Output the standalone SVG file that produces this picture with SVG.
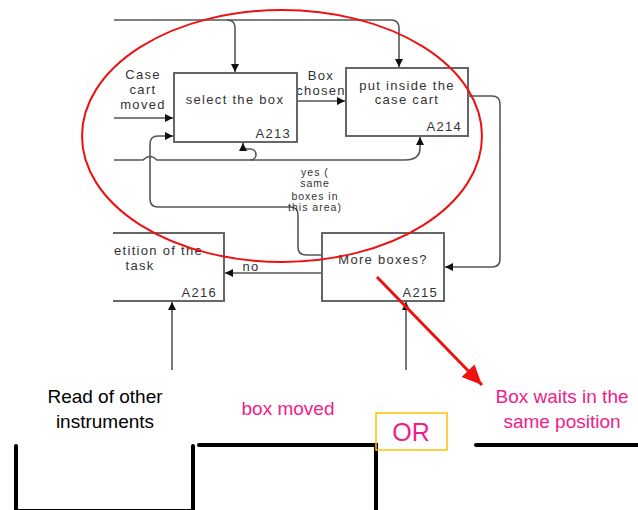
<svg xmlns="http://www.w3.org/2000/svg" width="638" height="510" viewBox="0 0 638 510">
  <style>
    .box { fill: #ffffff; stroke: #666666; stroke-width: 2; }
    .lbl { font-family: "Liberation Sans", Arial, sans-serif; font-size: 13px; fill: #333333; letter-spacing: 1.3px; }
    .small { font-size: 10.5px; letter-spacing: 1px; }
    .conn { fill: none; stroke: #555555; stroke-width: 1.6; }
    .feed { fill: none; stroke: #777777; stroke-width: 2; }
    .big { font-family: "Liberation Sans", Arial, sans-serif; font-size: 19px; text-anchor: middle; }
    .pink { fill: #f0208a; }
    .rail { fill: none; stroke: #000000; stroke-width: 4; stroke-linecap: round; }
  </style>
  <defs>
    <marker id="arrow" markerUnits="userSpaceOnUse" markerWidth="10" markerHeight="10" refX="8" refY="4" orient="auto">
      <path d="M0,0 L8,4 L0,8 Z" fill="#111111"/>
    </marker>
    <marker id="redArrow" markerUnits="userSpaceOnUse" markerWidth="24" markerHeight="24" refX="20" refY="9" orient="auto">
      <path d="M0,0 L20,9 L0,18 Z" fill="#ee1111"/>
    </marker>
  </defs>

  <rect width="638" height="510" fill="#ffffff"/>

  <!-- connectors -->
  <g id="connectors">
    <path class="conn" d="M114,20 H391 Q399,20 399,28 V67" marker-end="url(#arrow)"/>
    <path class="conn" d="M227,20 Q235,20 235,28 V72" marker-end="url(#arrow)"/>
    <path class="conn" d="M114,118 H173" marker-end="url(#arrow)"/>
    <path class="conn" d="M297,101 H345" marker-end="url(#arrow)"/>
    <path class="conn" d="M322,255 H306 Q298,255 298,247 V215 Q298,207 290,207 H158 Q150,207 150,199 V144 Q150,136 158,136 H173" marker-end="url(#arrow)"/>
    <path class="conn" d="M114,160 H143 Q150,153 157,160 H405 Q420,160 420,148 V137" marker-end="url(#arrow)"/>
    <path class="conn" d="M250,160 C258,160 258,149 250,149 H247 Q243,149 243,146 V143" marker-end="url(#arrow)"/>
    <path class="conn" d="M468,96 H492 Q500,96 500,104 V259 Q500,267 492,267 H445" marker-end="url(#arrow)"/>
    <path class="conn" d="M322,273 H225" marker-end="url(#arrow)"/>
    <path class="feed" d="M172,370 V302" marker-end="url(#arrow)"/>
    <path class="feed" d="M406,370 V302" marker-end="url(#arrow)"/>
  </g>

  <!-- edge labels -->
  <g id="edge-labels" class="lbl" text-anchor="middle">
    <text x="143" y="79">Case</text>
    <text x="143" y="94">cart</text>
    <text x="143" y="109">moved</text>
    <text x="321" y="80">Box</text>
    <text x="321" y="95">chosen</text>
    <text x="251" y="271">no</text>
    <g class="small">
      <text x="315" y="176">yes (</text>
      <text x="315" y="187">same</text>
      <text x="315" y="200">boxes in</text>
      <text x="315" y="211">this area)</text>
    </g>
  </g>

  <!-- activity boxes -->
  <g id="A213">
    <rect class="box" x="174" y="73" width="123" height="69"/>
    <text class="lbl" x="235" y="104" text-anchor="middle">select the box</text>
    <text class="lbl" x="291" y="138" text-anchor="end">A213</text>
  </g>
  <g id="A214">
    <rect class="box" x="346" y="68" width="122" height="68"/>
    <text class="lbl" x="407" y="90" text-anchor="middle">put inside the</text>
    <text class="lbl" x="407" y="104" text-anchor="middle">case cart</text>
    <text class="lbl" x="462" y="131" text-anchor="end">A214</text>
  </g>
  <g id="A215">
    <rect class="box" x="322" y="233" width="122" height="68"/>
    <text class="lbl" x="383" y="264" text-anchor="middle">More  boxes?</text>
    <text class="lbl" x="438" y="297" text-anchor="end">A215</text>
  </g>
  <g id="A216">
    <path class="box" d="M113,233 H224 V301 H113"/>
    <text class="lbl" x="114" y="255">etition of the</text>
    <text class="lbl" x="140" y="270" text-anchor="middle">task</text>
    <text class="lbl" x="217" y="297" text-anchor="end">A216</text>
  </g>

  <!-- highlight ellipse and pointer -->
  <ellipse cx="282" cy="136" rx="200" ry="126" fill="none" stroke="#ee1111" stroke-width="2"/>
  <path d="M377,277 L482,385" stroke="#ee1111" stroke-width="3" fill="none" marker-end="url(#redArrow)"/>

  <!-- state rail -->
  <g id="rail">
    <path class="rail" d="M16,446 V512"/>
    <path class="rail" d="M16,511 H193"/>
    <path class="rail" d="M193,446 V512"/>
    <path class="rail" d="M199,445 H376 V512"/>
    <path class="rail" d="M476,445 H640"/>
  </g>

  <g id="states">
    <text class="big" x="105" y="403" fill="#000000">Read of other</text>
    <text class="big" x="105" y="428" fill="#000000">instruments</text>
    <text class="big pink" x="288" y="415">box moved</text>
    <text class="big pink" x="562" y="403">Box waits in the</text>
    <text class="big pink" x="562" y="428">same position</text>
  </g>

  <g id="or-gate">
    <rect x="376" y="413" width="71" height="37" fill="none" stroke="#ffc000" stroke-width="1.5"/>
    <text class="pink" x="411" y="441" font-family="Liberation Sans, Arial, sans-serif" font-size="25" text-anchor="middle">OR</text>
  </g>
</svg>
